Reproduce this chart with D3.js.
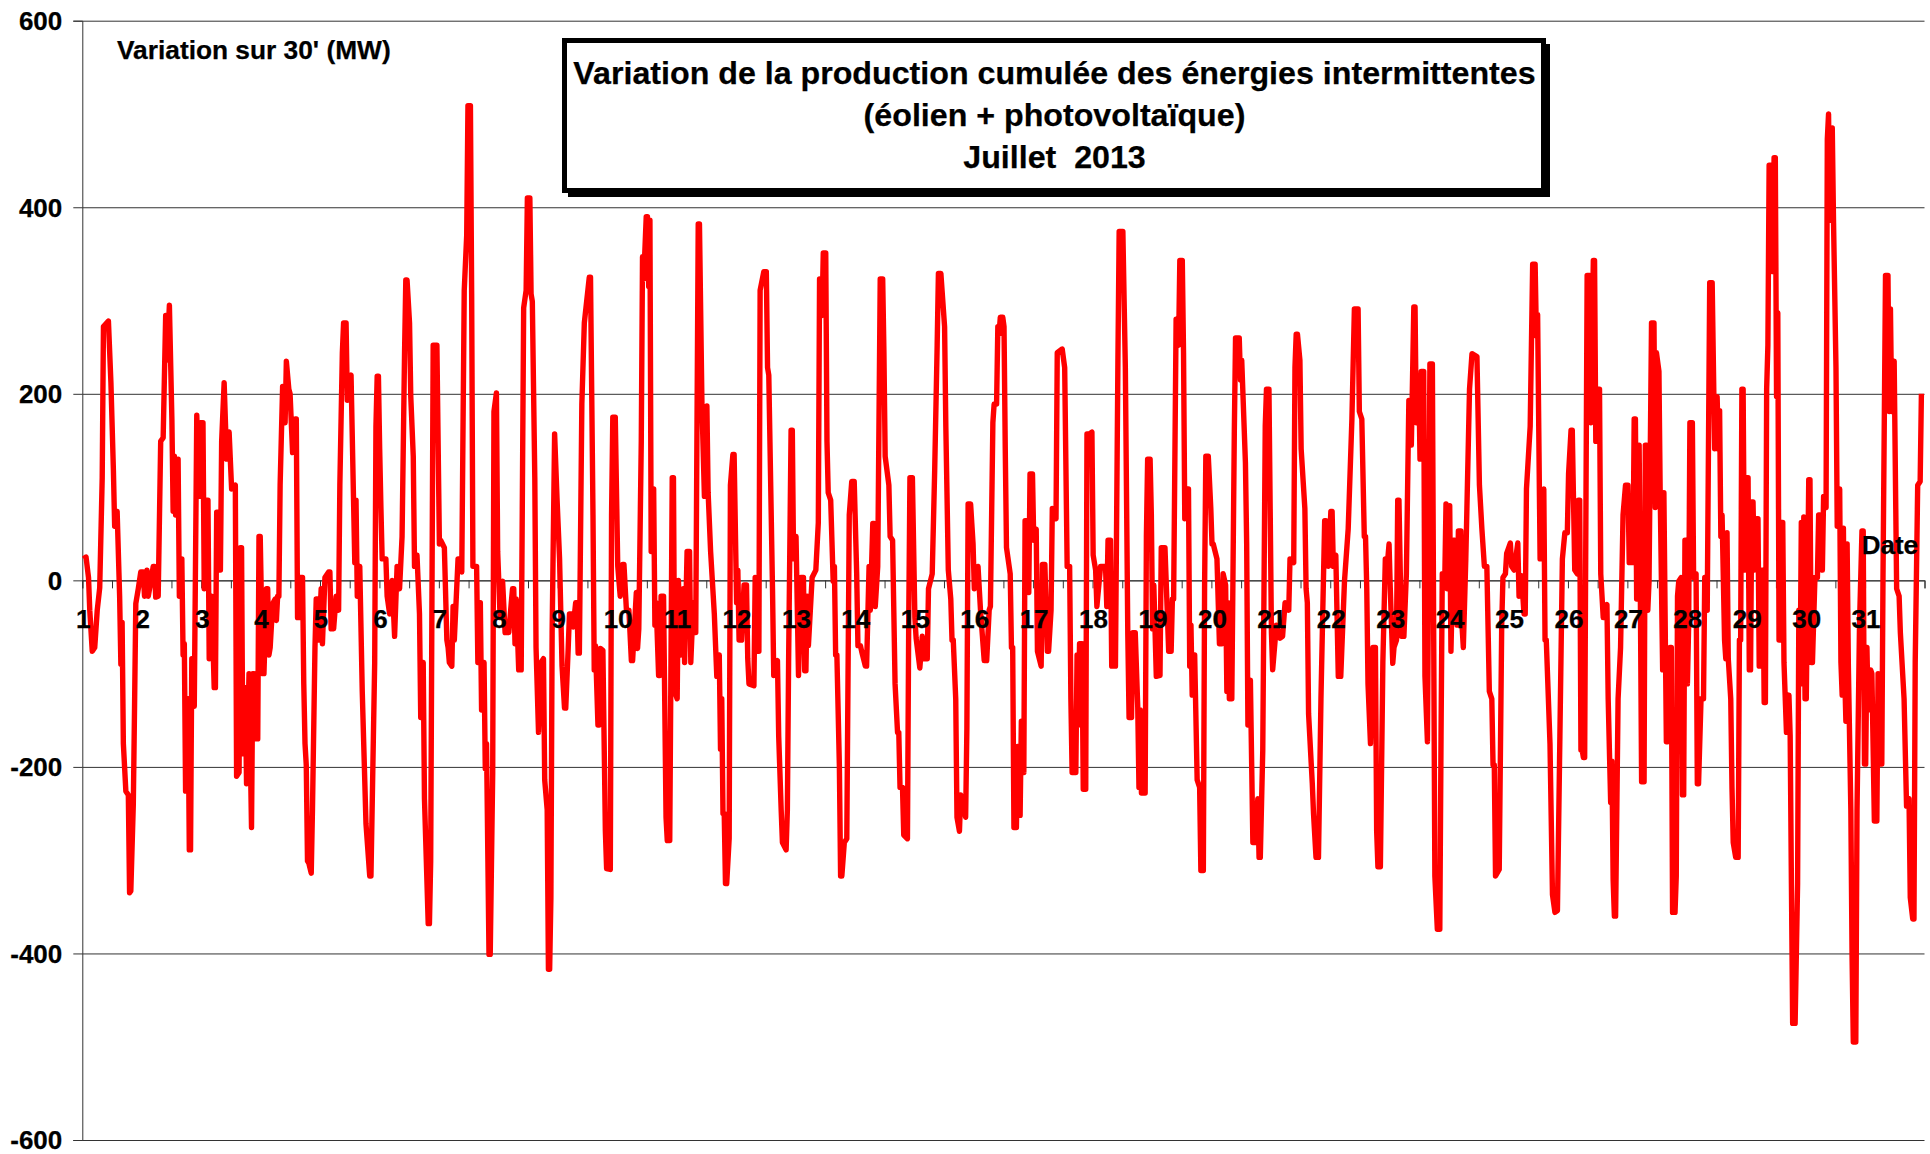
<!DOCTYPE html>
<html lang="fr"><head><meta charset="utf-8">
<script src="https://cdn.jsdelivr.net/npm/d3@7/dist/d3.min.js"></script>
<style>html,body{margin:0;padding:0;background:#fff}svg{display:block}text{font-family:"Liberation Sans",Arial,sans-serif;font-weight:bold;fill:#000;stroke:#000;stroke-width:0.25px}</style>
</head><body><svg id="c" width="1930" height="1154"></svg>
<script>
const titleLines=["Variation de la production cumulée des énergies intermittentes","(éolien + photovoltaïque)","Juillet  2013"];
const yLabel="Variation sur 30' (MW)";
const xLabel="Date";
const yTicks=[-600,-400,-200,0,200,400,600];
const dayLabels=d3.range(1,32);
// [half-hour slot since 1 July 00:00, variation in MW]
const week1=[[1,23],[3,25],[5,3],[6,-32],[8,-76],[10,-72],[12,-32],[14,-8],[16,110],[17,272],[19,275],[21,278],[23,212],[25,118],[26,58],[28,74],[30,-17],[31,-90],[32,-45],[33,-175],[35,-226],[37,-230],[38,-335],[39,-333],[41,-240],[42,-135],[43,-25],[45,-9],[47,9],
[49,9],[50,-17],[52,11],[53,-17],[55,-2],[57,15],[58,15],[59,-18],[61,-17],[63,149],[65,153],[67,284],[68,236],[70,295],[72,173],[73,74],[74,133],[75,70],[77,130],[78,-17],[79,23],[80,23],[81,-80],[82,-68],[83,-226],[85,-127],[86,-289],[87,-289],[88,-84],[90,-135],[92,177],[94,90],[95,169],
[97,169],[98,-9],[99,86],[101,86],[102,-84],[104,-17],[106,-115],[107,-115],[108,73],[110,73],[111,11],[112,149],[114,212],[116,130],[118,159],[120,98],[123,102],[124,-210],[126,-206],[127,35],[128,35],[129,-186],[131,-115],[132,-218],[134,-100],[136,-265],[137,-100],[138,-100],[139,-170],[141,-170],[142,47],[143,47],
[145,-100],[146,-100],[148,-9],[149,-9],[150,-80],[151,-72],[153,-25],[155,-20],[156,-43],[157,-17],[158,-17],[159,102],[161,208],[163,169],[164,235],[166,205],[167,200],[169,137],[171,173],[172,173],[173,-40],[174,-40],[175,3],[177,3],[178,-111],[179,-175],[180,-198],[181,-301],[182,-303],[184,-314],[185,-245],[187,-72],[188,-20],[189,-20],[190,-64],[192,-9],
[193,-68],[195,3],[198,9],[199,9],[200,-52],[202,-52],[204,-17],[206,-32],[207,102],[209,244],[210,276],[212,276],[213,193],[214,215],[216,220],[218,86],[219,19],[220,86],[221,-17],[223,15],[225,-119],[228,-261],[231,-317],[232,-317],[235,-88],[236,165],[237,219],[238,219],
[239,141],[240,78],[241,23],[244,23],[245,-17],[247,-36],[249,0],[251,-60],[253,15],[255,-9],[257,47],[259,244],[260,322],[261,322],[263,276],[264,197],[266,133],[267,15],[269,27],[271,-36],[272,-147],[274,-88],[275,-234],[278,-368],[279,-368],[280,-301],[282,252],[285,252],[287,39],
[288,43],[291,35],[293,-64],[294,-72],[295,-88],[297,-92],[298,-28],[299,-64],[302,23],[304,23],[305,9],[307,311],[309,370],[310,509],[312,509],[313,307],[314,15],[317,15],[318,-88],[320,-24],[321,-139],[323,-88],[324,-202],[325,-175],[327,-401],[328,-401],[330,-206],[331,181],[333,201],[334,31]];
const week2=[[336,-40],[338,-1],[340,-56],[343,-56],[345,-24],[346,-9],[347,-9],[348,-68],[349,-20],[351,-96],[353,-96],[355,292],[357,311],[358,410],[360,410],[361,307],[362,299],[364,110],[365,-72],[367,-163],[369,-88],[371,-84],[372,-214],[374,-246],[375,-417],[376,-417],[377,-340],[378,-56],[380,157],[382,86],
[384,23],[386,-92],[388,-137],[389,-137],[391,-72],[392,-36],[394,-36],[395,-50],[397,-24],[398,-24],[399,-78],[400,-78],[402,189],[404,276],[408,325],[409,325],[411,70],[412,-96],[413,-70],[415,-155],[416,-155],[417,-73],[419,-75],[421,-269],[422,-309],[425,-310],[426,70],[427,175],[429,175],[431,15],[433,-17],[435,17],[436,17],[438,-32],[440,-32],[442,-86],[443,-86],[446,-13],[447,-73],[448,-52],[450,149],[451,347],[452,323],[454,390],[455,390],[456,315],[457,386],[458,31],[460,98],[461,-48],[462,-24],[464,-102],[465,-102],[466,-17],[468,-17],[470,-254],[471,-279],[473,-279],[475,110],[476,110],[477,-119],[479,-127],
[480,0],[482,-80],[484,-9],[485,-88],[487,31],[489,31],[490,-88],[492,-24],[493,-56],[494,-56],[496,382],[497,382],[499,189],[501,90],[503,187],[504,94],[506,31],[509,-36],[511,-103],[513,-80],[514,-181],[515,-127],[516,-250],[517,-250],[518,-325],[519,-325],[521,-277],[522,102],[524,135],[525,135],[527,-24],[528,11],[529,-64],[531,-64],[533,-5],[535,-5],[536,-84],[537,-111],[541,-113],[542,3],[543,-76],[545,-76],[546,311],[549,331],[551,331],[552,228],[553,220],[556,-9],[557,-102],[560,-86],[561,-167],[563,-246],[564,-281],[567,-289],[568,-246],[569,-88],[571,161],[572,161],[573,23],[575,47],[577,-102],[579,3],[581,3],[582,-97],[583,-97],[584,-17],[585,-70],[588,3],[591,11],[593,62],[594,323],[596,284],[597,351],[599,351],[600,149],[601,94],[603,86],[605,-1],[606,15],[607,-80],[608,-80],[610,-198],[611,-317],[612,-317],[614,-281],[616,-277],[618,70],[620,106],[622,106],[624,7],[625,-70],[627,-70],[628,-76],[631,-92],[632,-92],[634,15],[635,-32],[637,61],[638,61],[639,-28],[641,15],[643,323],[645,323],[646,244],[647,133],[650,102],[651,47],[653,43],[655,-111],[657,-163],[658,-163],[659,-222],[661,-222],[662,-273],[665,-277],[666,-48],[667,110],[669,110],[671,-40],[672,-62],[675,-94]];
const week3=[[677,-60],[678,-84],[681,-84],[682,-9],[685,7],[687,118],[689,252],[690,329],[692,329],[695,272],[696,165],[698,11],[700,-20],[701,-64],[702,-64],[704,-127],[705,-254],[707,-269],[708,-230],[712,-254],[713,-159],[714,82],[716,82],[718,39],[719,-9],[722,15],[724,-32],[727,-86],[729,-86],[731,-32],[732,-28],[734,169],[735,189],[737,189],[738,272],[739,264],[740,282],[742,282],[743,272],[744,141],[745,35],[748,7],[749,-72],[750,-72],
[751,-265],[753,-265],[754,-178],[756,-252],[757,-151],[759,-206],[760,64],[761,64],[763,-13],[764,114],[766,114],[767,43],[769,55],[770,-76],[773,-92],[774,17],[776,17],[778,-76],[779,-76],[781,-32],[782,77],[785,66],[786,244],[790,248],[792,228],[794,15],[796,15],[797,-127],[798,-206],[801,-206],[802,-80],[803,-155],[804,-68],[806,-68],[807,-224],[809,-224],[810,157],[812,157],[814,159],[815,27],[817,11],[818,-28],[821,15],[825,15],[826,-28],[827,43],[829,43],[830,-92],[833,-92],[835,236],[836,374],[839,374],[841,228],[843,-60],[844,-147],[846,-147],[847,-56],[849,-56],[851,-135],[852,-222],[853,-139],[854,-228],[857,-228],[858,47],[859,130],[861,130],[862,70],[863,-52],[864,-5],[866,-103],[869,-102],[870,35],[873,35],[876,-76],[878,-76],[879,-20],[880,-20],[882,280],[884,252],[885,343],[887,343],[888,244],[889,66],[891,98],[892,98],[893,-92],[894,-48],[895,-123],[896,-123],[897,-80],[899,-214],[901,-222],[902,-311],[904,-311],[905,-9],[906,133],[908,133],[910,78],[911,39],[912,39],[915,23],[917,-68],[919,-68],[920,7],[922,-5],[923,-119],[924,-24],[925,-127],[927,-127],[929,157],[930,260],[933,260],[934,215],[935,236],[938,126],[939,39],[940,-155],[942,-107],[944,-281],[946,-281],[948,-234],[949,-297],[950,-297],[952,-182],[954,165],[955,205],[957,205],[959,-56],[960,-96],[963,-48],[966,-62],[968,-60],[970,-24],[973,-32],[974,23],[977,19],[978,228],[979,264],[980,264],[982,236],[983,141],[986,77],[987,-9],[988,-24],[989,-143],[992,-218],[993,-250],[995,-297],[997,-297],[999,-127],[1002,64],[1003,64],[1005,15],[1007,74],[1008,74],[1009,15],[1011,27],[1013,-103],[1015,-103],[1018,-1],[1021,55],[1024,173],[1026,291],[1029,291],[1030,181],[1032,173],[1034,47],[1035,47],[1036,-9],[1037,-111]];
const week4=[[1039,-175],[1041,-72],[1043,-72],[1044,-269],[1045,-307],[1047,-307],[1049,-88],[1051,23],[1052,7],[1054,39],[1055,-9],[1057,-89],[1058,-72],[1060,-64],[1061,86],[1062,86],[1064,-60],[1066,-60],[1068,7],[1070,193],[1072,145],[1074,293],[1075,293],[1076,169],[1078,220],[1079,130],[1080,224],[1082,224],[1083,-103],[1085,-173],[1087,232],[1089,232],[1091,-317],[1093,-374],[1095,-374],[1096,-167],[1097,7],[1099,0],[1100,82],[1101,-9],[1103,80],[1104,-76],[1106,43],[1107,43],[1109,-48],[1110,53],[1112,53],[1113,-50],[1114,-72],[1116,23],[1119,205],[1121,243],[1125,240],
[1127,102],[1129,55],[1131,15],[1133,15],[1135,-119],[1137,-127],[1138,-198],[1139,-198],[1140,-317],[1143,-310],[1145,-48],[1146,3],[1148,7],[1149,29],[1152,40],[1153,15],[1155,11],[1158,40],[1159,-17],[1161,5],[1163,-36],[1164,-36],[1165,98],[1168,165],[1170,339],[1172,339],[1173,262],[1174,285],[1176,23],[1179,98],[1180,-64],[1181,-64],[1184,-175],[1186,-337],[1188,-356],[1190,-354],[1192,-167],[1194,23],[1196,51],[1198,51],[1199,114],[1201,161],[1202,161],[1204,11],[1206,7],[1207,86],[1208,86],[1209,-182],[1210,-182],[1211,-190],[1212,-190],[1214,327],[1216,327],[1217,169],[1219,343],[1220,343],[1221,149],[1223,205],[1224,205],[1225,7],[1227,-40],[1230,-26],[1231,-127],[1233,-238],[1234,-194],[1235,-321],[1236,-360],[1237,-360],[1239,-127],[1241,-72],[1243,70],[1245,102],[1247,102],[1248,19],[1251,19],[1252,173],[1253,173],[1254,-20],[1256,145],[1257,-20],[1258,-216],[1260,-216],[1261,145],[1262,145],[1263,-32],[1264,-1],[1266,276],[1268,276],[1269,78],[1270,244],[1272,224],[1273,94],[1275,-96],[1276,94],[1278,-173],[1279,-173],[1281,-72],[1282,-72],[1283,-356],[1285,-356],[1286,-317],[1287,-17],[1288,-1],[1290,3],[1291,-230],[1292,-230],[1293,43],[1294,43],[1295,-111],[1296,-48],[1297,169],[1299,169],[1300,3],[1302,7],[1303,-218],[1304,-218],[1306,-127],[1308,-127],[1309,3],[1310,-32],[1311,-32],[1313,319],[1315,319],[1317,141],[1319,197],[1320,141],[1321,182],[1322,47],[1323,70],[1325,-64],[1326,-84],[1327,51],[1328,-84],[1330,-127],[1331,-222],[1332,-281],[1334,-297],[1336,-297],[1337,-64],[1338,-64],[1339,205],[1340,205],[1341,11],[1343,110],[1344,110],[1345,-96],[1346,-96],[1347,84],[1348,84],[1349,11],[1351,66],[1352,66],[1353,-92],[1355,11],[1356,11],[1357,-131],[1358,-131],[1359,205],[1360,252],[1361,445],[1363,445],[1364,331],[1365,453],[1366,453],[1367,197],[1368,287],[1369,-64],[1370,-64],[1371,62],[1372,62],[1373,-88],[1375,-163],[1377,-123],[1378,-167],[1379,-325],[1380,-475],[1382,-475],[1384,-325],[1385,-32],[1386,-111],[1387,62],[1388,-111],[1389,68],[1390,-127],[1391,-127],[1393,108],[1394,108],[1395,-88],[1396,-88],[1398,3],[1400,3],[1401,70],[1402,70],[1404,11],[1405,90],[1407,78],[1408,473],[1409,500],[1410,386],[1412,485],[1413,386],[1415,228],[1416,58],[1418,98],[1419,-88],[1420,-123],[1421,56],[1422,-100],[1423,-151],[1424,39],[1425,-92],[1427,-246],[1428,-404],[1429,-495],[1431,-495],[1432,-246],[1434,-48],[1436,53],[1437,53],[1438,-197],[1439,-197],[1440,-72],[1441,-139],[1443,-96],[1444,-100],[1446,-258],[1448,-258],[1449,-100],[1450,-197],[1452,-197],[1453,7],[1455,327],[1457,327],[1458,181],[1459,291],[1460,181],[1462,235],[1464,-9],[1466,-17],[1467,-56],[1470,-127],[1472,-242],[1474,-234],[1475,-340],[1477,-363],[1478,-363],[1479,-88],[1481,102],[1483,106],[1484,200]];
const series=[...week1,...week2,...week3,...week4];
const slotsPerDay=48, slotsInMonth=1488;
// small correction of the slot (drift of the reading ruler)
const slotCorrection=s=>s+1.5*Math.min(1,s/300);

const svg=d3.select("#c");
const x=d3.scaleLinear().domain([0,slotsInMonth]).range([82.3,1924.5]);
const y=d3.scaleLinear().domain([-600,600]).range([1140,20.7]);
const axisInk="#333";
// horizontal gridlines + value ticks
const ya=svg.append("g").attr("transform","translate(82.3,0)").call(
  d3.axisLeft(y).tickValues(yTicks).tickSize(9).tickPadding(11).tickFormat(d=>String(d)));
ya.selectAll("path").attr("stroke",axisInk);
ya.selectAll("line").attr("stroke",axisInk);
ya.selectAll("text").style("font-size","26px").attr("dy","0.34em");
ya.selectAll(".tick").append("line").attr("x2",1924.5-82.3).attr("stroke",axisInk);
// x axis on zero line
const xa=svg.append("g").attr("transform",`translate(0,${y(0)})`).call(
  d3.axisBottom(x).tickValues(d3.range(0,slotsInMonth+1,slotsPerDay/2)).tickSize(8).tickFormat(""));
xa.selectAll("path").attr("stroke",axisInk);
xa.selectAll("line").attr("stroke",axisInk);
// series
svg.append("path").datum(series).attr("fill","none").attr("stroke","#ff0000")
  .attr("stroke-width",5.4).attr("stroke-linejoin","round")
  .attr("d",d3.line().x(d=>x(slotCorrection(d[0]))).y(d=>y(d[1])));
// day labels, over the line
svg.append("g").selectAll("text").data(dayLabels).join("text")
  .attr("x",d=>x((d-1)*slotsPerDay)+1).attr("y",y(0)+48).attr("text-anchor","middle")
  .style("font-size","26px").text(d=>d);
svg.append("text").attr("x",1918).attr("y",554).attr("text-anchor","end").style("font-size","26px").text(xLabel);
svg.append("text").attr("x",117).attr("y",59).style("font-size","26.3px").text(yLabel);
// title box
svg.append("rect").attr("x",568).attr("y",44).attr("width",982).attr("height",153).attr("fill","#000");
svg.append("rect").attr("x",564.5).attr("y",40.5).attr("width",979).attr("height",150).attr("fill","#fff").attr("stroke","#000").attr("stroke-width",5);
svg.append("g").selectAll("text").data(titleLines).join("text")
  .attr("x",1054.5).attr("y",(d,i)=>[84,126,168][i]).attr("text-anchor","middle")
  .style("font-size","32.2px").style("white-space","pre").text(d=>d);
</script></body></html>
